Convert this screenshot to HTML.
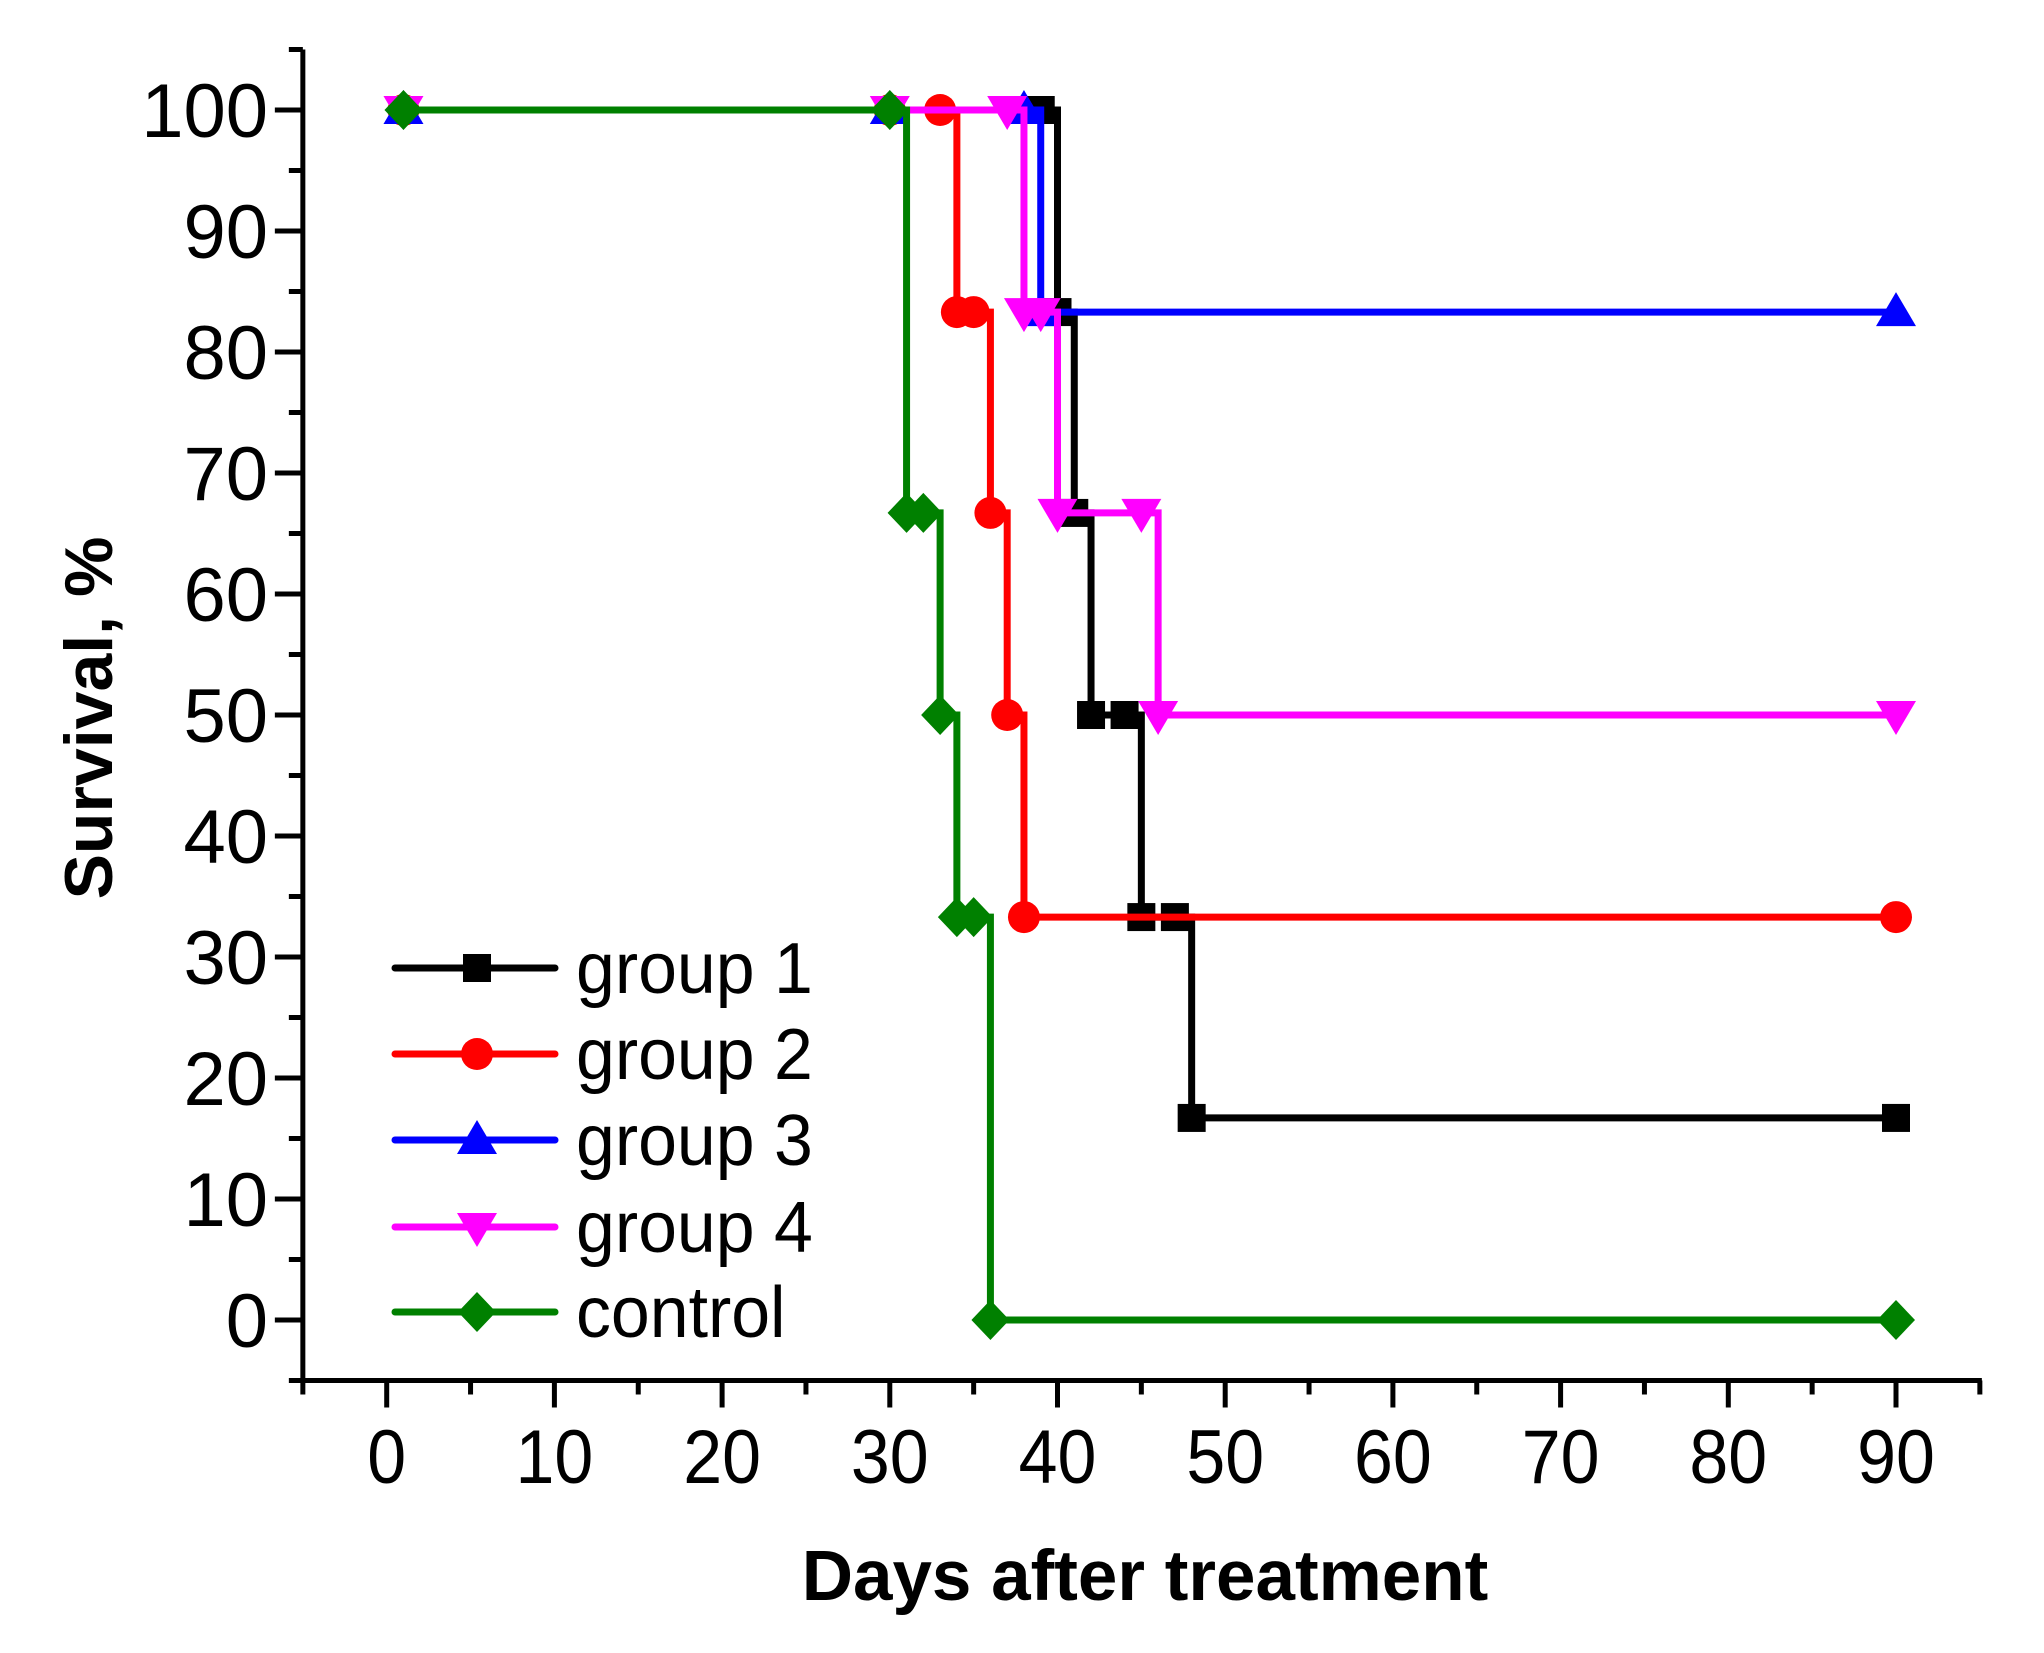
<!DOCTYPE html>
<html><head><meta charset="utf-8"><style>
html,body{margin:0;padding:0;background:#fff;}
svg{display:block;font-family:"Liberation Sans",Arial,sans-serif;}
</style></head><body>
<svg id="chart" width="2044" height="1653" viewBox="0 0 2044 1653" xmlns="http://www.w3.org/2000/svg">
<g id="axes"></g>
<g id="series"></g>
<g id="legend"></g>
<text transform="translate(112,718) rotate(-90)" text-anchor="middle" font-size="68" font-weight="bold">Survival, %</text>
<text x="1145" y="1600" text-anchor="middle" font-size="71" font-weight="bold">Days after treatment</text>
</svg>
<script>
const xTicks = [0,10,20,30,40,50,60,70,80,90];
const yTicks = [0,10,20,30,40,50,60,70,80,90,100];
const seriesNames = ["group 1","group 2","group 3","group 4","control"];
const g1Days = [1,30,39,40,41,42,44,45,47,48,90];
const g1Surv = [100,100,100,83.3,66.7,50,50,33.3,33.3,16.7,16.7];
const g2Days = [1,30,33,34,35,36,37,38,90];
const g2Surv = [100,100,100,83.3,83.3,66.7,50,33.3,33.3];
const g3Days = [1,30,38,39,90];
const g3Surv = [100,100,100,83.3,83.3];
const g4Days = [1,30,37,38,39,40,45,46,90];
const g4Surv = [100,100,100,83.3,83.3,66.7,66.7,50,50];
const ctDays = [1,30,31,32,33,34,35,36,90];
const ctSurv = [100,100,66.7,66.7,50,33.3,33.3,0,0];

const NS="http://www.w3.org/2000/svg";
const X0=386.7, XS=16.77, Y0=1320, YS=12.1;
const sx=d=>X0+d*XS, sy=v=>Y0-v*YS;
function mk(tag,attrs,parent){const e=document.createElementNS(NS,tag);for(const k in attrs)e.setAttribute(k,attrs[k]);parent.appendChild(e);return e;}
const axes=document.getElementById('axes');
let a=mk('line',{x1:sx(-5),y1:sy(-5),x2:sx(-5),y2:sy(105),stroke:'#000','stroke-width':5},axes);


a=mk('line',{x1:sx(-5)-2,y1:sy(-5),x2:sx(95)+2,y2:sy(-5),stroke:'#000','stroke-width':5},axes);


for(let v=-5;v<=105;v+=5){
  const major=v%10===0;
  const t=mk('line',{x1:sx(-5)-(major?28:14),y1:sy(v),x2:sx(-5),y2:sy(v),stroke:'#000','stroke-width':5},axes);
  
  
}
yTicks.forEach(v=>{
  const t=mk('text',{x:268,y:sy(v)+27,'text-anchor':'end','font-size':76},axes);
  t.textContent=v;
  
  
});
for(let d=-5;d<=95;d+=5){
  const major=d%10===0;
  const t=mk('line',{x1:sx(d),y1:sy(-5),x2:sx(d),y2:sy(-5)+(major?27:14),stroke:'#000','stroke-width':5},axes);
  
  
}
xTicks.forEach(d=>{
  const t=mk('text',{x:0,y:0,'text-anchor':'middle','font-size':76,transform:`translate(${sx(d)},1483) scale(0.92,1)`},axes);
  t.textContent=d;
  
  
});

const colors=['#000000','#ff0000','#0000ff','#ff00ff','#008000'];
const shapes=['square','circle','triangle','tri-down','diamond'];
const dataSets=[[g1Days,g1Surv],[g2Days,g2Surv],[g3Days,g3Surv],[g4Days,g4Surv],[ctDays,ctSurv]];
function marker(shape,x,y,color,parent){
  let e;
  if(shape==='square') e=mk('rect',{x:x-14,y:y-14,width:28,height:28,fill:color},parent);
  else if(shape==='circle') e=mk('circle',{cx:x,cy:y,r:16,fill:color},parent);
  else if(shape==='triangle') e=mk('polygon',{points:`${x},${y-20} ${x+20},${y+14} ${x-20},${y+14}`,fill:color},parent);
  else if(shape==='tri-down') e=mk('polygon',{points:`${x-20},${y-14} ${x+20},${y-14} ${x},${y+20}`,fill:color},parent);
  else e=mk('polygon',{points:`${x},${y-20} ${x+19},${y} ${x},${y+20} ${x-19},${y}`,fill:color},parent);
  return e;
}
const sg=document.getElementById('series');
dataSets.forEach((ds,i)=>{
  const [days,surv]=ds;
  const g=mk('g',{},sg);
  
  
  let d=`M${sx(days[0])},${sy(surv[0])}`;
  for(let k=1;k<days.length;k++){d+=` H${sx(days[k])} V${sy(surv[k])}`;}
  const p=mk('path',{d:d,fill:'none',stroke:colors[i],'stroke-width':7,'stroke-linejoin':'miter'},g);
  
  
  days.forEach((dd,k)=>{
    const m=marker(shapes[i],sx(dd),sy(surv[k]),colors[i],g);
    
    
  });
});
const lg=document.getElementById('legend');
const rowsY=[968,1054,1140,1227,1312];
seriesNames.forEach((n,i)=>{
  const g=mk('g',{},lg);
  
  
  mk('line',{x1:395,y1:rowsY[i],x2:555,y2:rowsY[i],stroke:colors[i],'stroke-width':7,'stroke-linecap':'round'},g);
  marker(shapes[i],477,rowsY[i],colors[i],g);
  const t=mk('text',{x:0,y:0,'font-size':72,transform:`translate(576,${rowsY[i]+25}) scale(0.97,1)`},g);
  t.textContent=n;
});
</script>
</body></html>
